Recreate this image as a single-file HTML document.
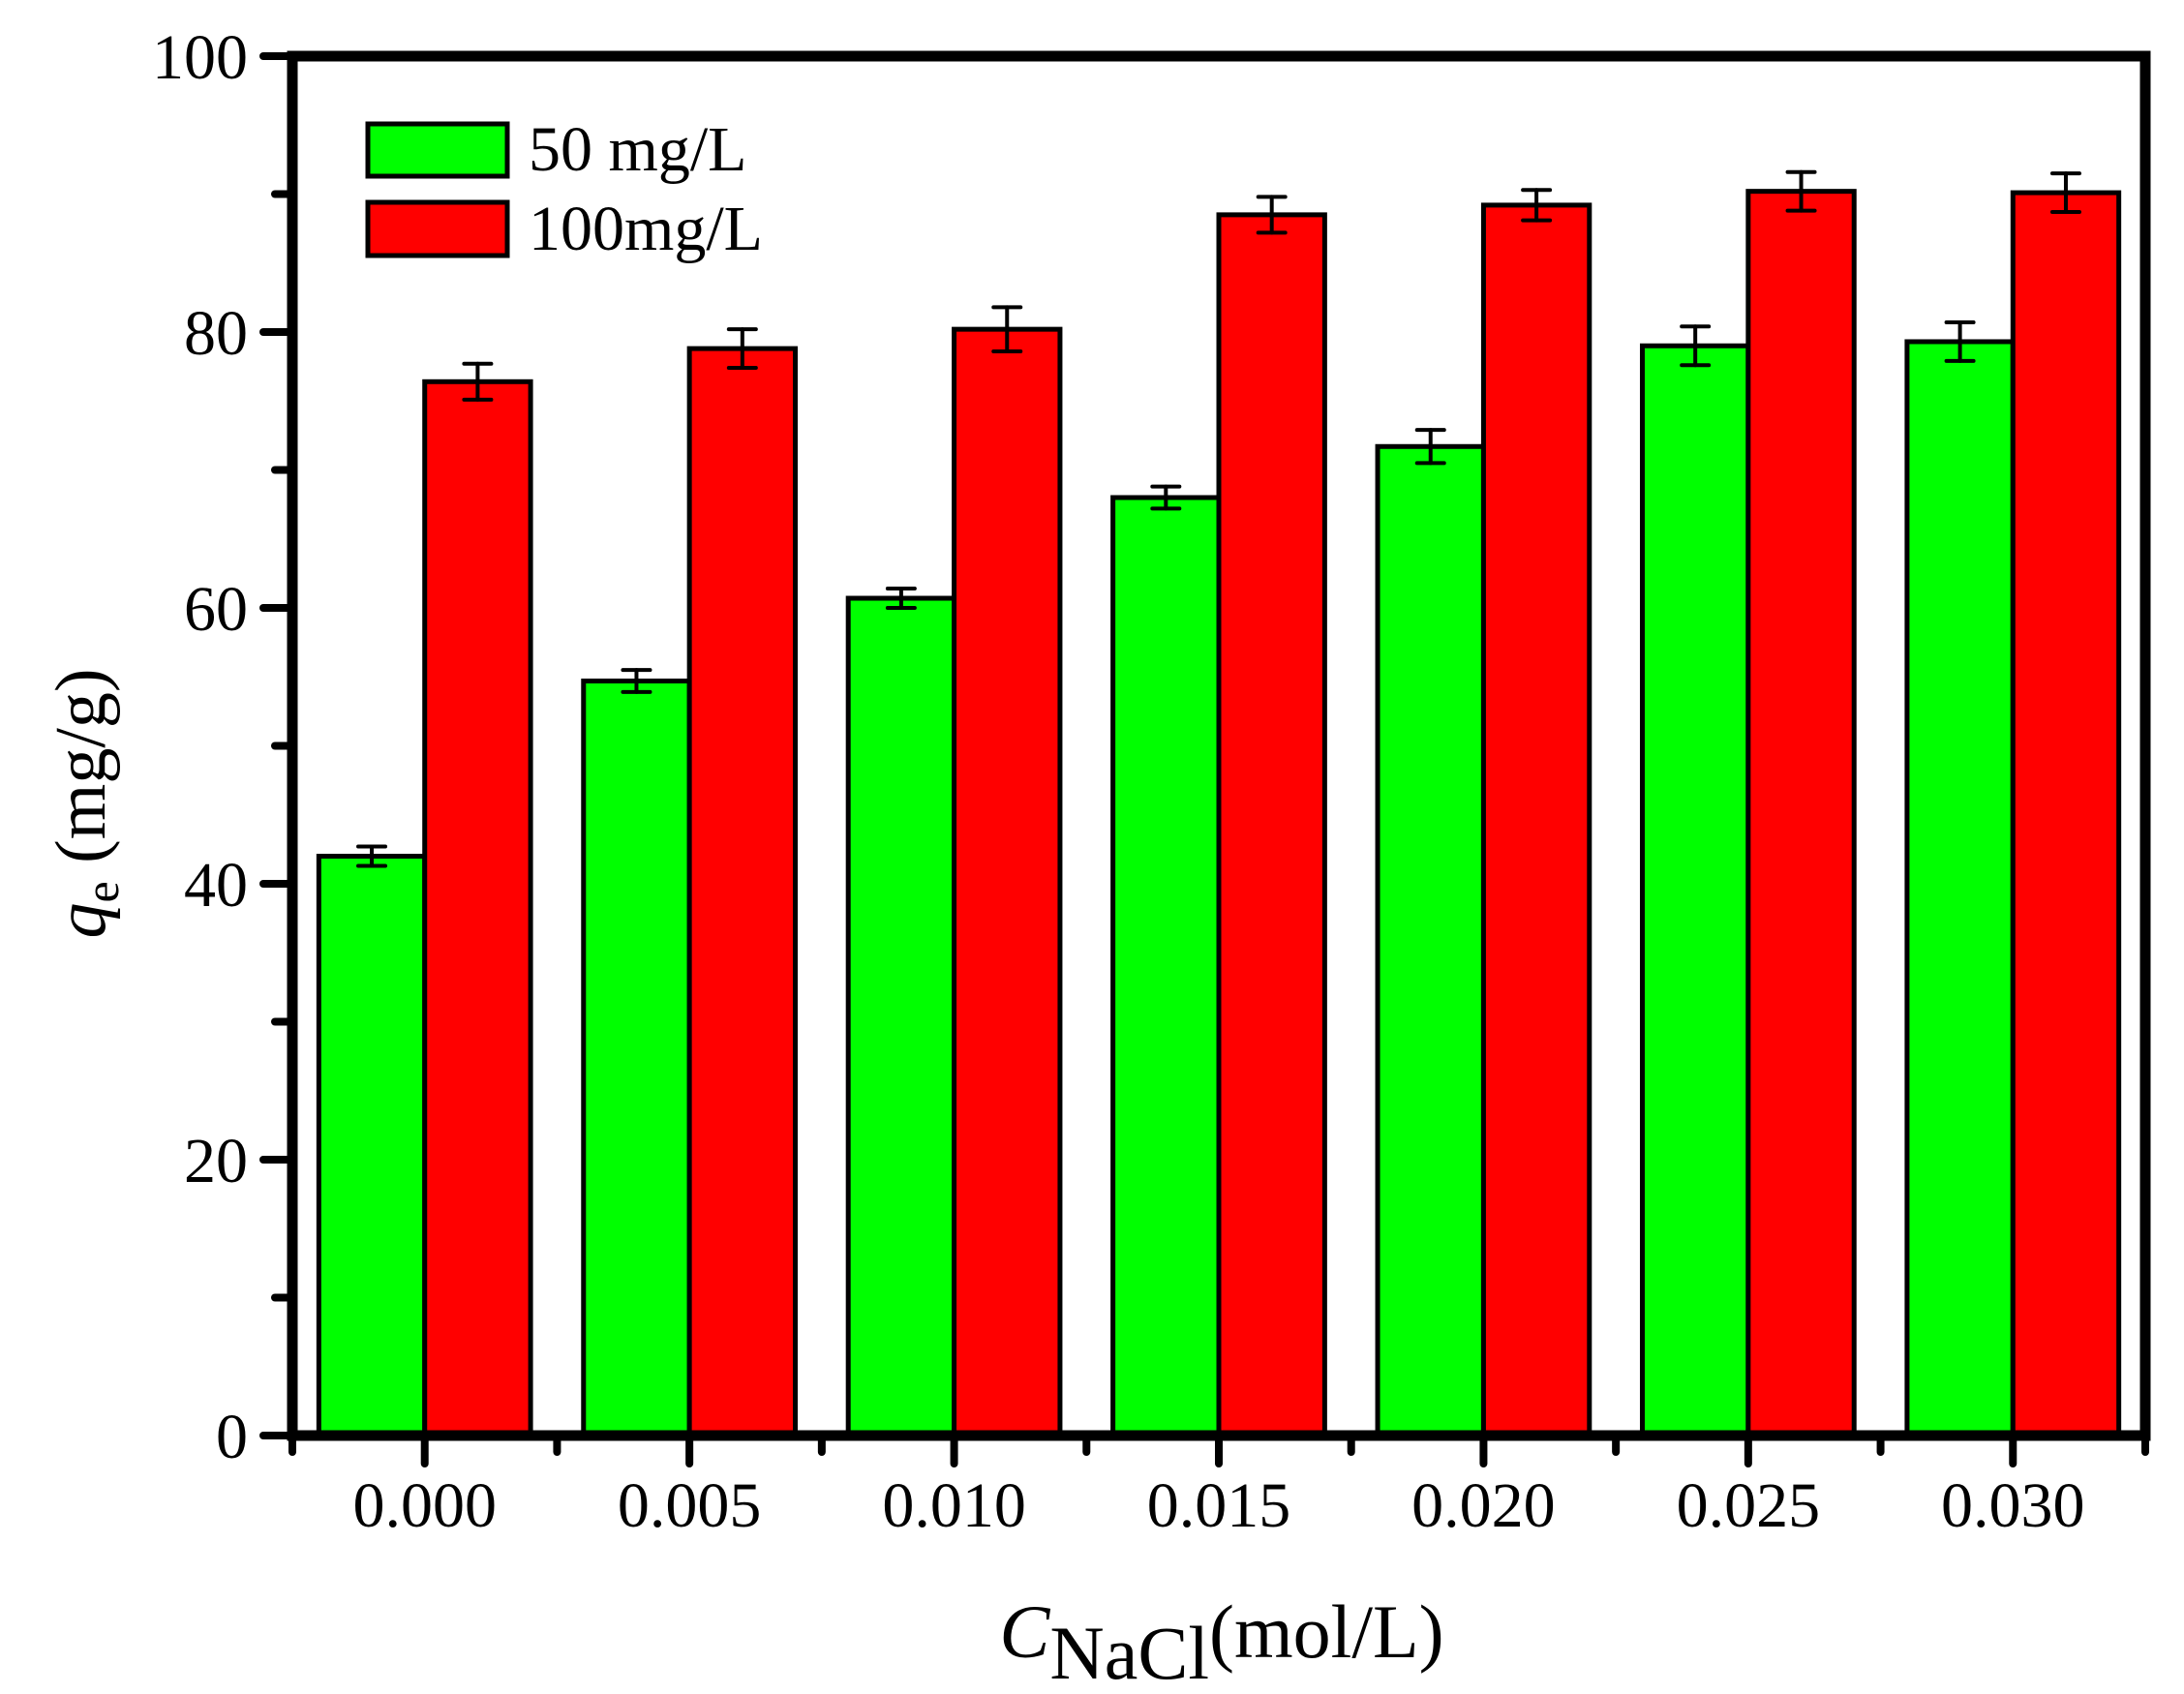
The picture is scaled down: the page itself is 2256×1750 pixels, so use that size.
<!DOCTYPE html>
<html><head><meta charset="utf-8"><style>
html,body{margin:0;padding:0;background:#fff;}
svg{display:block;font-family:"Liberation Serif",serif;}
</style></head><body>
<svg id="chart" width="2256" height="1750" viewBox="0 0 2256 1750" xmlns="http://www.w3.org/2000/svg">
<g id="bars"></g>
<g id="axes"></g>
<g>
<rect x="380" y="128" width="144" height="54" fill="#00ff00" stroke="#000" stroke-width="5"/>
<text x="546" y="176" font-size="66">50 mg/L</text>
<rect x="380" y="209" width="144" height="55" fill="#ff0000" stroke="#000" stroke-width="5"/>
<text x="546" y="258" font-size="66">100mg/L</text>
</g>
<text transform="translate(108,830) rotate(-90)" text-anchor="middle" font-size="74"><tspan font-style="italic">q</tspan><tspan font-size="50" dy="14">e</tspan><tspan dy="-14"> (mg/g)</tspan></text>
<text x="1262" y="1712" text-anchor="middle" font-size="78"><tspan font-style="italic">C</tspan><tspan dy="22">NaCl</tspan><tspan dy="-22">(mol/L)</tspan></text>
</svg>
<script>
const categories = ["0.000","0.005","0.010","0.015","0.020","0.025","0.030"];
const series50 = [42.0, 54.7, 60.7, 68.0, 71.7, 79.0, 79.3];
const err50 = [0.7, 0.8, 0.7, 0.8, 1.2, 1.4, 1.4];
const series100 = [76.4, 78.8, 80.2, 88.5, 89.2, 90.2, 90.1];
const err100 = [1.3, 1.4, 1.6, 1.3, 1.1, 1.4, 1.4];
const yTicks = [0, 20, 40, 60, 80, 100];

const NS = "http://www.w3.org/2000/svg";
const L = 302, R = 2216, T = 58, B = 1483;
const step = (R - L) / categories.length;
const xc = i => L + step * (i + 0.5);
const y = v => B - (v - 0) / 100 * (B - T);
const bw = step * 0.4;
function mk(tag, attrs, parent) {
  const e = document.createElementNS(NS, tag);
  for (const k in attrs) e.setAttribute(k, attrs[k]);
  parent.appendChild(e);
  return e;
}
const bars = document.getElementById('bars');
const axes = document.getElementById('axes');
function drawBar(i, v, er, x0, color, nm) {
  const r = mk('rect', {x: x0, y: y(v), width: bw, height: B - y(v), fill: color, stroke: '#000', 'stroke-width': 5}, bars);
  
  
  const cx = x0 + bw / 2;
  const g = mk('g', {stroke: '#000', 'stroke-width': 4, 'stroke-linecap': 'round'}, bars);
  
  
  mk('line', {x1: cx, x2: cx, y1: y(v + er), y2: y(v - er)}, g);
  mk('line', {x1: cx - 14, x2: cx + 14, y1: y(v + er), y2: y(v + er)}, g);
  mk('line', {x1: cx - 14, x2: cx + 14, y1: y(v - er), y2: y(v - er)}, g);
}
categories.forEach((c, i) => {
  drawBar(i, series50[i], err50[i], xc(i) - bw, '#00ff00', 'bar-50');
  drawBar(i, series100[i], err100[i], xc(i), '#ff0000', 'bar-100');
});
// frame
const frame = mk('path', {d: `M${L},${B} L${L},${T} L${R},${T} L${R},${B} Z`, fill: 'none', stroke: '#000', 'stroke-width': 11, 'stroke-linejoin': 'miter'}, axes);


const tg = mk('g', {stroke: '#000', 'stroke-width': 8, 'stroke-linecap': 'round'}, axes);


// y ticks
for (let v = 0; v <= 100; v += 10) {
  const major = v % 20 === 0;
  mk('line', {x1: L, x2: L - (major ? 30 : 18), y1: y(v), y2: y(v)}, tg);
}
yTicks.forEach(v => {
  const t = mk('text', {x: 256, y: y(v) + 23, 'text-anchor': 'end', 'font-size': 66}, axes);
  t.textContent = v;
  
  
});
// x ticks
for (let k = 0; k <= categories.length; k++) {
  mk('line', {x1: L + step * k, x2: L + step * k, y1: B, y2: B + 17}, tg);
}
categories.forEach((c, i) => {
  mk('line', {x1: xc(i), x2: xc(i), y1: B, y2: B + 29}, tg);
  const t = mk('text', {x: xc(i), y: 1577, 'text-anchor': 'middle', 'font-size': 66}, axes);
  t.textContent = c;
  
  
});
</script>
</body></html>
